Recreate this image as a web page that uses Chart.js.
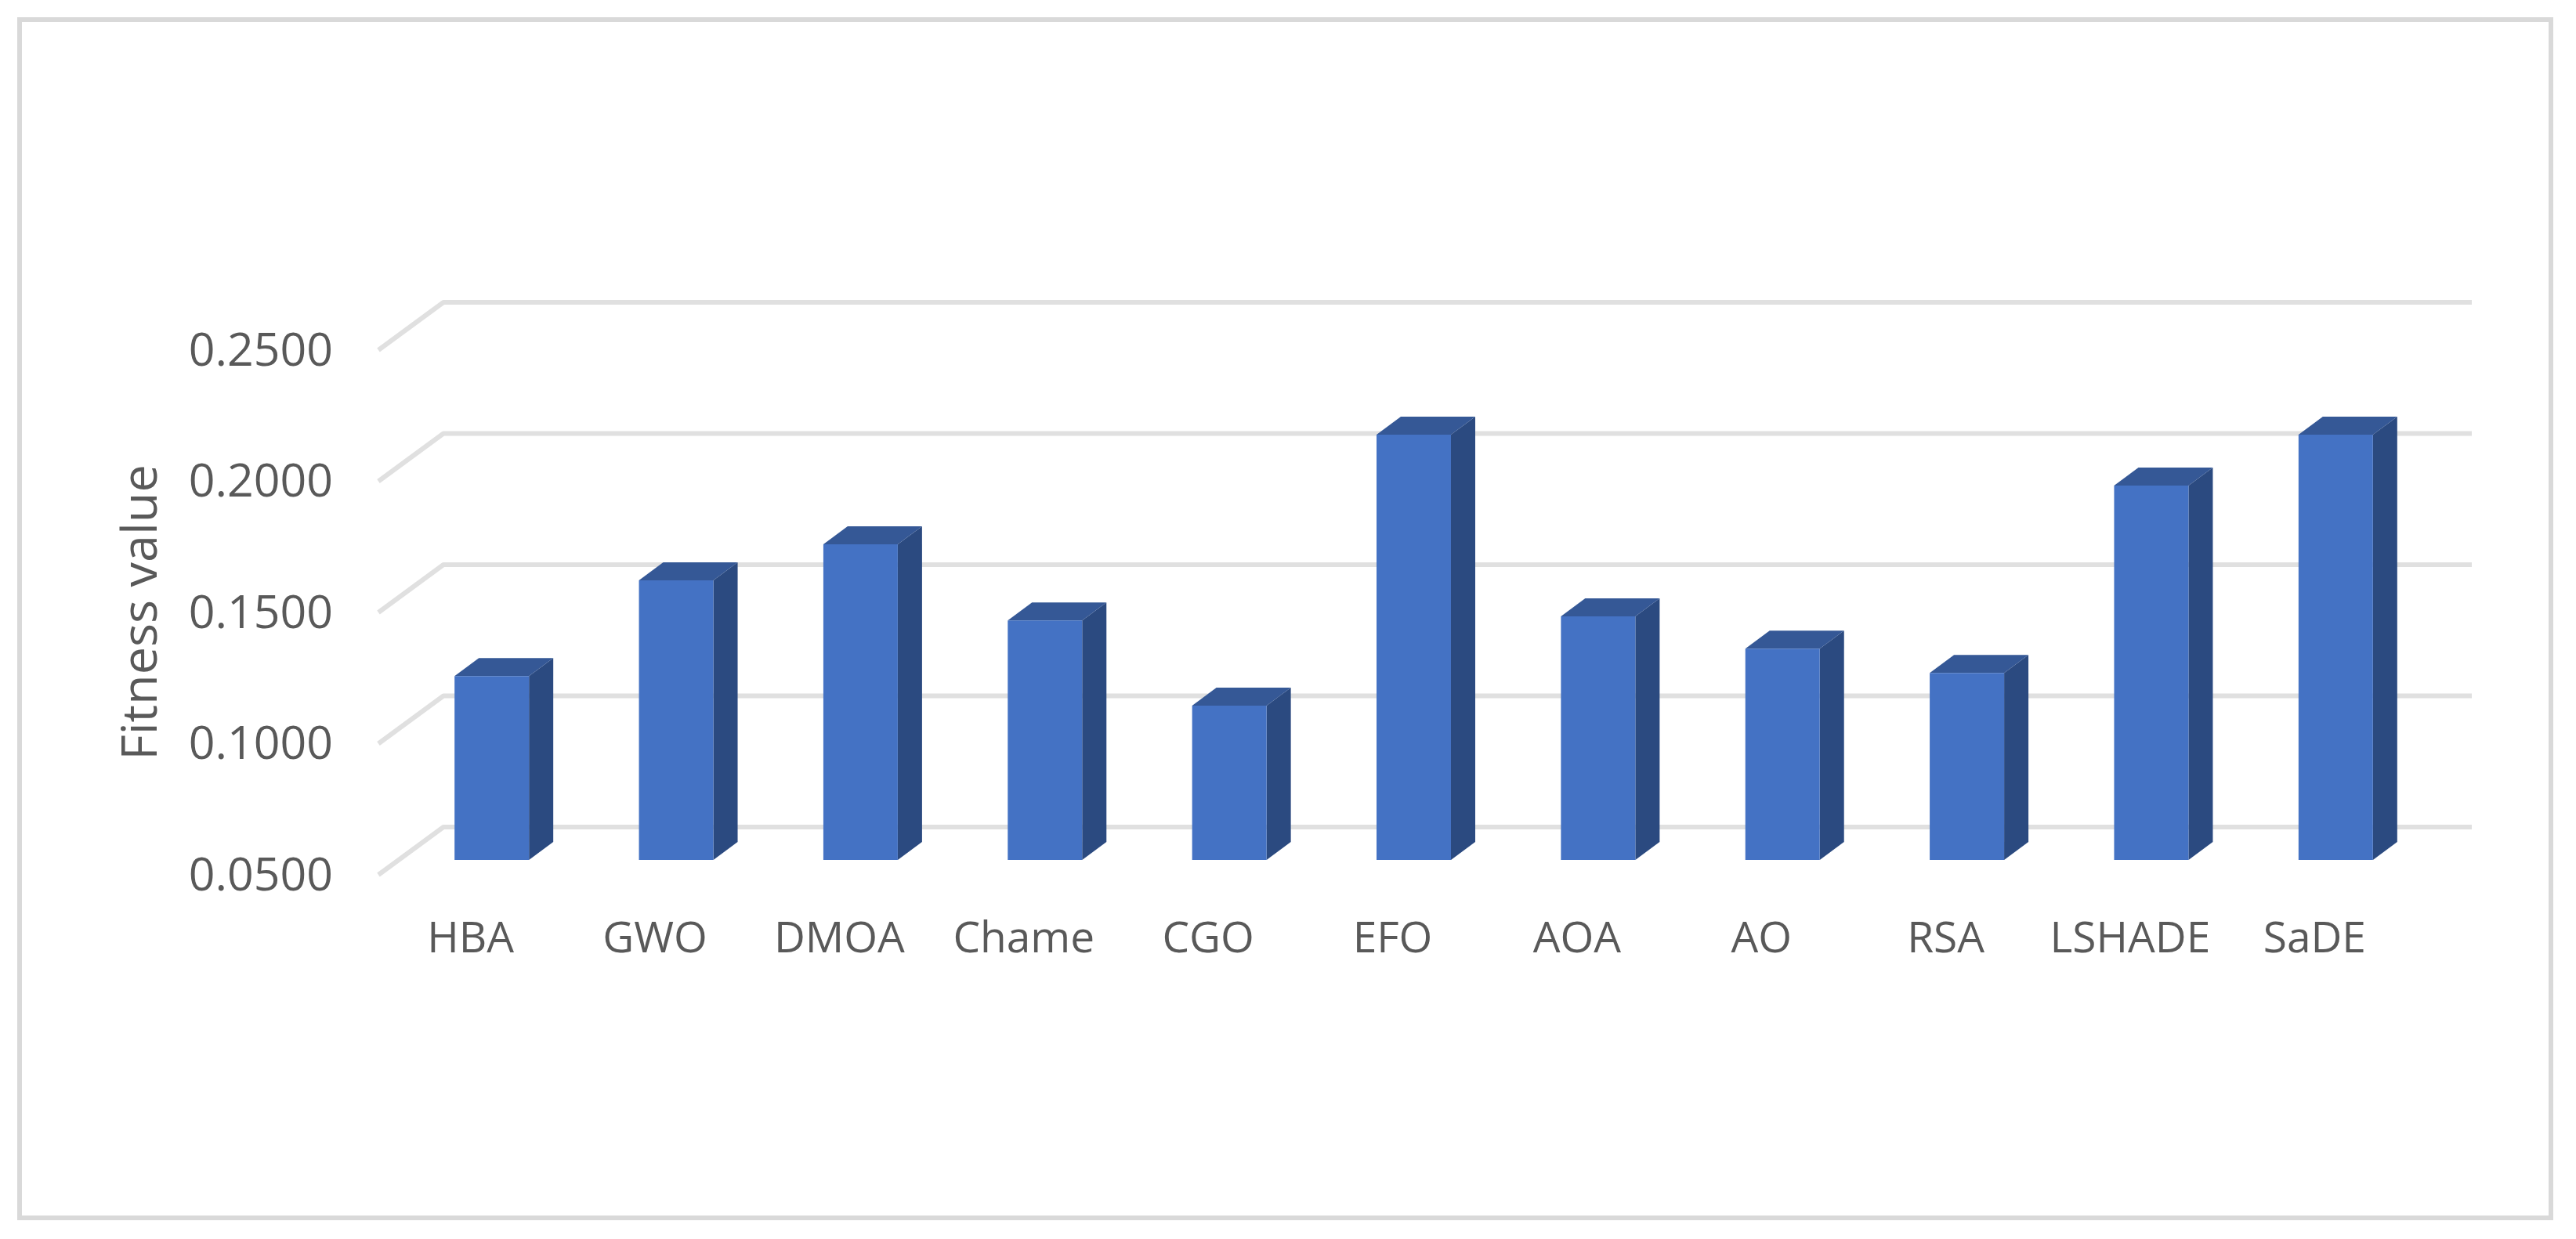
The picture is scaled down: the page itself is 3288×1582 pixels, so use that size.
<!DOCTYPE html>
<html>
<head>
<meta charset="utf-8">
<style>html,body{margin:0;padding:0;background:#fff}canvas{display:block}</style>
<script src="https://cdn.jsdelivr.net/npm/chart.js@4"></script>
</head>
<body>
<canvas id="c" width="3288" height="1582"></canvas>
<script>
const categories = ["HBA","GWO","DMOA","Chame","CGO","EFO","AOA","AO","RSA","LSHADE","SaDE"];
const fitnessValues = [0.1201,0.1566,0.1703,0.1413,0.1088,0.2121,0.1428,0.1305,0.1213,0.1927,0.2121];
const axisTitle = "Fitness value";
const FONT = '"Open Sans", sans-serif';

const box3d = {
  id: 'box3d',
  beforeDraw(chart) {
    const c = chart.ctx;
    c.save();
    c.fillStyle = '#fff';
    c.fillRect(0, 0, chart.width, chart.height);
    c.strokeStyle = '#d9d9d9';
    c.lineWidth = 6;
    c.strokeRect(25, 25, 3231, 1530);
    c.restore();
  },
  beforeDatasetsDraw(chart) {
    const c = chart.ctx, a = chart.chartArea, y = chart.scales.y;
    const wallX = 83, wallY = 61;
    c.save();
    c.strokeStyle = '#e0e0e0';
    c.lineWidth = 6;
    c.lineJoin = 'round';
    y.ticks.forEach(t => {
      const py = y.getPixelForValue(t.value);
      c.beginPath();
      c.moveTo(a.left, py);
      c.lineTo(a.left + wallX, py - wallY);
      c.lineTo(a.right + wallX, py - wallY);
      c.stroke();
    });
    c.restore();
    const sx = 27, sy = -19, dx = 31, dy = 23;
    c.save();
    c.translate(sx, sy);
    chart.getDatasetMeta(0).data.forEach(b => {
      const p = b.getProps(['x','y','base','width'], true);
      const l = p.x - p.width / 2, r = p.x + p.width / 2;
      c.fillStyle = '#2b4a80';
      c.beginPath();
      c.moveTo(r, p.y); c.lineTo(r + dx, p.y - dy); c.lineTo(r + dx, p.base - dy); c.lineTo(r, p.base);
      c.closePath(); c.fill();
      c.fillStyle = '#355896';
      c.beginPath();
      c.moveTo(l, p.y); c.lineTo(l + dx, p.y - dy); c.lineTo(r + dx, p.y - dy); c.lineTo(r, p.y);
      c.closePath(); c.fill();
    });
  },
  afterDatasetsDraw(chart) { chart.ctx.restore(); }
};

new Chart(document.getElementById('c'), {
  type: 'bar',
  data: { labels: categories, datasets: [{
    data: fitnessValues, backgroundColor: '#4472c4', borderWidth: 0, base: 0.05,
    categoryPercentage: 1, barPercentage: 0.4036, clip: false
  }]},
  plugins: [box3d],
  options: {
    responsive: false, animation: false,
    layout: { padding: { left: 0, top: 447, right: 216, bottom: 0 } },
    plugins: { legend: { display: false }, tooltip: { enabled: false } },
    scales: {
      x: {
        grid: { display: false, drawTicks: false }, border: { display: false },
        afterFit(s) { s.height = 465; },
        ticks: { autoSkip: false, maxRotation: 0, minRotation: 0, padding: 50, color: '#595959', font: { family: FONT, size: 55 } }
      },
      y: {
        min: 0.05, max: 0.25,
        grid: { display: false, drawTicks: false }, border: { display: false },
        afterFit(s) { s.width = 483; },
        title: { display: true, text: axisTitle, color: '#595959', font: { family: FONT, size: 63 }, padding: { top: 144, bottom: 0 } },
        ticks: { stepSize: 0.05, padding: 58, labelOffset: 3, color: '#595959', font: { family: FONT, size: 59 }, callback: v => Number(v).toFixed(4) }
      }
    }
  }
});
</script>
</body>
</html>
